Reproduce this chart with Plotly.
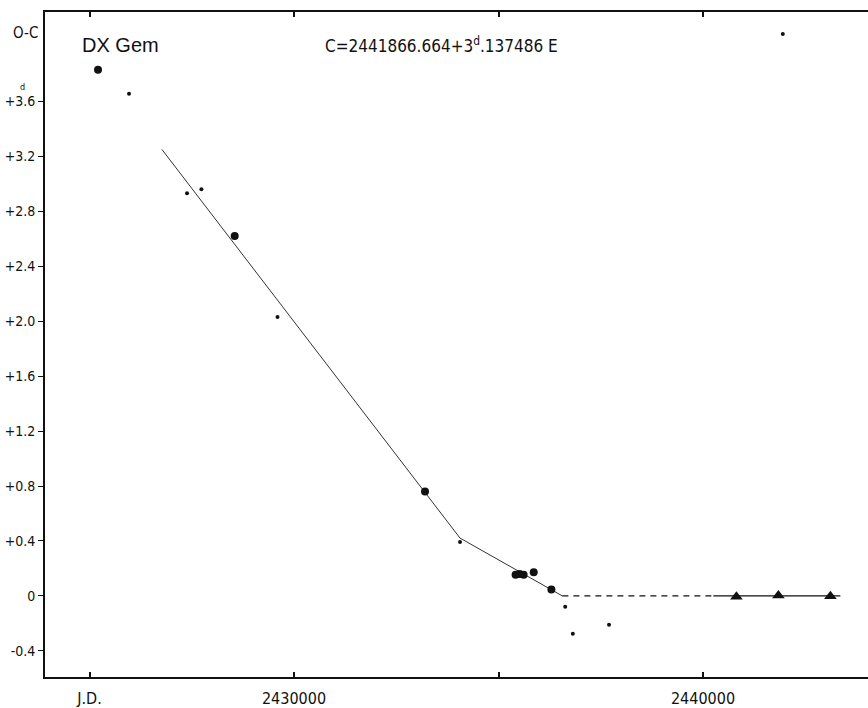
import plotly.graph_objects as go

# O-C residuals of DX Gem (days) against Julian Date
big_jd = [2425208, 2428550, 2433203, 2435418, 2435516, 2435614, 2435861, 2436293]
big_oc = [3.83, 2.62, 0.76, 0.155, 0.16, 0.155, 0.172, 0.046]

small_jd = [2425966, 2427384, 2427736, 2429597, 2434059, 2436631, 2436817, 2437702, 2441951]
small_oc = [3.655, 2.93, 2.96, 2.03, 0.393, -0.079, -0.276, -0.209, 4.09]

tri_jd = [2440817, 2441843, 2443115]
tri_oc = [-0.006, 0.004, -0.003]

# fitted period segments
fit_jd = [2426770, 2434059, 2436562]
fit_oc = [3.25, 0.421, 0.0]
dash_jd = [2436562, 2440252]
dash_oc = [0.0, 0.0]
recent_jd = [2440252, 2443359]
recent_oc = [0.0, 0.0]

x_ticks = [2425000, 2430000, 2440000]
x_labels = ["J.D.", "2430000", "2440000"]
x_minor_ticks = [2435000]
y_ticks = [-0.4, 0.0, 0.4, 0.8, 1.2, 1.6, 2.0, 2.4, 2.8, 3.2, 3.6]
y_labels = ["-0.4", "0", "+0.4", "+0.8", "+1.2", "+1.6", "+2.0", "+2.4", "+2.8", "+3.2", "+3.6"]

FONT = "DejaVu Sans Condensed, Liberation Sans Narrow, Liberation Sans, sans-serif"
INK = "#111111"

fig = go.Figure()
fig.add_trace(go.Scatter(x=fit_jd, y=fit_oc, mode="lines",
                         line=dict(color="#333333", width=1), hoverinfo="skip"))
fig.add_trace(go.Scatter(x=dash_jd, y=dash_oc, mode="lines",
                         line=dict(color=INK, width=1.3, dash="6px,5px"), hoverinfo="skip"))
fig.add_trace(go.Scatter(x=recent_jd, y=recent_oc, mode="lines",
                         line=dict(color=INK, width=1.3), hoverinfo="skip"))
fig.add_trace(go.Scatter(x=big_jd, y=big_oc, mode="markers",
                         marker=dict(color=INK, size=8, symbol="circle")))
fig.add_trace(go.Scatter(x=small_jd, y=small_oc, mode="markers",
                         marker=dict(color=INK, size=4, symbol="circle")))
fig.add_trace(go.Scatter(x=tri_jd, y=tri_oc, mode="markers",
                         marker=dict(color=INK, size=11, symbol="triangle-up")))

fig.update_layout(
    width=868, height=708,
    margin=dict(l=45, r=0, t=12, b=31),
    paper_bgcolor="white", plot_bgcolor="white",
    showlegend=False,
    font=dict(family=FONT, color=INK, size=16),
    xaxis=dict(range=[2423912, 2444034], tickvals=x_ticks, ticktext=x_labels,
               automargin=False,
               showgrid=False, zeroline=False, showline=True, linecolor=INK, linewidth=1.8,
               mirror="ticks", ticks="inside", ticklen=5, tickwidth=1.5, tickcolor=INK,
               minor=dict(tickvals=x_minor_ticks, ticks="inside", ticklen=5,
                          tickwidth=1.5, tickcolor=INK),
               ticklabelstandoff=6, tickfont=dict(size=16, family=FONT)),
    yaxis=dict(range=[-0.59, 4.25], tickvals=y_ticks, ticktext=y_labels,
               automargin=False,
               showgrid=False, zeroline=False, showline=True, linecolor=INK, linewidth=1.8,
               ticks="outside", ticklen=5, tickwidth=1.3, tickcolor=INK,
               tickfont=dict(size=14, family=FONT)),
)

# unit mark (days) above the top O-C tick label
fig.add_annotation(text="d", xref="paper", yref="y", x=-0.027, y=3.6, yshift=14,
                   xanchor="center", yanchor="middle", showarrow=False,
                   font=dict(size=9, family=FONT, color=INK))
fig.add_annotation(text="O-C", xref="paper", yref="paper", x=-0.041, y=0.968,
                   xanchor="left", yanchor="middle", showarrow=False,
                   font=dict(size=15, family=FONT, color=INK))
fig.add_annotation(text="DX Gem", xref="paper", yref="paper", x=0.042, y=0.950,
                   xanchor="left", yanchor="middle", showarrow=False,
                   font=dict(size=20, family="Liberation Sans, sans-serif", color=INK))
fig.add_annotation(text="C=2441866.664+3<sup>d</sup>.137486 E", xref="paper", yref="paper",
                   x=0.338, y=0.950, xanchor="left", yanchor="middle", showarrow=False,
                   font=dict(size=17, family=FONT, color=INK))

fig.write_html("out.html")
